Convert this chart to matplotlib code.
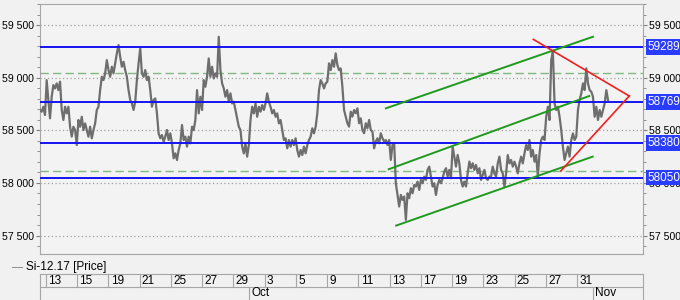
import numpy as np
import matplotlib
matplotlib.use("Agg")
import matplotlib.pyplot as plt
from matplotlib.ticker import MultipleLocator, FuncFormatter

plt.rcParams['font.family'] = ['Liberation Sans', 'DejaVu Sans']
plt.rcParams['font.size'] = 8

# price path (Si-12.17), evenly spaced by bar
price = [
    58693, 58677, 58724, 58645, 58977, 58788, 58614, 58819, 58930, 58898,
    58946, 58882, 58962, 58693, 58598, 58724, 58661, 58724, 58534, 58440,
    58534, 58503, 58360, 58598, 58534, 58629, 58503, 58566, 58503, 58440,
    58534, 58424, 58503, 58566, 58693, 58724, 58882, 59009, 58977, 59041,
    59167, 59072, 59009, 59104, 59041, 59136, 59231, 59310, 59199, 59104,
    59151, 59072, 59009, 58882, 58788, 58756, 58693, 58772, 58977, 59136,
    59278, 59041, 59009, 59072, 58977, 59009, 58882, 58724, 58788, 58803,
    58661, 58471, 58424, 58455, 58392, 58440, 58503, 58408, 58471, 58376,
    58234, 58281, 58218, 58313, 58376, 58550, 58408, 58440, 58345, 58440,
    58376,
    58534, 58503, 58598, 58882, 58661, 58819, 58693, 58977, 58914, 59009,
    59183, 59009, 59104, 58993, 59041, 59009, 59389, 59072, 58946, 58898,
    58819, 58882, 58772, 58851, 58756, 58772, 58693, 58614, 58534, 58503,
    58345, 58281, 58376, 58250, 58360, 58598, 58724, 58661, 58756, 58629,
    58724, 58677, 58740, 58693, 58756, 58851, 58772, 58724, 58661, 58693,
    58629, 58661, 58566, 58598, 58503, 58408, 58424, 58329, 58408, 58345,
    58408, 58360, 58424, 58313, 58250, 58313, 58265, 58345, 58281, 58360,
    58408, 58440, 58519, 58471, 58534, 58661, 58882, 58977, 58946, 58898,
    58946, 58962, 59136, 59072, 59167, 59104, 59231, 59120, 59072, 59088,
    58915, 58693, 58630, 58567, 58535, 58677, 58630, 58693, 58662, 58709,
    58567, 58614, 58503, 58472, 58567, 58519, 58598, 58503, 58488, 58329,
    58393, 58424, 58377, 58472, 58424, 58393, 58408, 58361, 58408, 58219,
    58361, 58377, 57997, 57886, 57776, 57886, 57839, 57871, 57649, 57902,
    57855, 57950, 57902, 57981, 57966, 58013, 57934, 58029, 57997, 58060,
    58029, 58124, 58155, 58060, 57966, 57997, 57886, 57981, 58029, 57997,
    58045, 58108, 58140, 58060, 58124, 58045, 58345, 58250, 58155, 58266,
    58187, 58029, 57966, 58013, 57966, 58092, 58203, 58140, 58187, 58124,
    58171, 58092, 58140, 58029, 58076, 58124, 58045, 58029, 58060,
    58060, 58155, 58091, 58060, 58186, 58250, 58123, 58091, 57965, 58091,
    58265, 58186, 58218, 58155, 58202, 58155, 58091, 58186, 58250, 58186,
    58281, 58360, 58313, 58408, 58250, 58313, 58202, 58265, 58060, 58281,
    58408, 58440, 58408, 58629, 58724, 58598, 59167, 59246, 58756, 58693,
    58724, 58629, 58503, 58345, 58218, 58281, 58345, 58250, 58408, 58471,
    58408, 58440, 58693, 58788, 58851, 58946, 58882, 59088, 58946, 58882,
    58867, 58819, 58629, 58724, 58598, 58693, 58629, 58693, 58756, 58882,
    58788,
]
first_bar = -0.19
last_bar = 17.99

# date axis: one label per grid column, months below
day_labels = ['13', '15', '19', '21', '25', '27', '29', '3', '5', '9',
              '11', '13', '17', '19', '23', '25', '27', '31']
month_labels = ['Oct', 'Nov']
month_starts = [6.5, 17.51]

# levels
blue_levels = [59289, 58769, 58380, 58050]
dashed_levels = [59042, 58110]

# trend lines (bar, price)
green_lines = [
    ([10.88, 17.51], [58709, 59389]),
    ([10.97, 17.39], [58130, 58826]),
    ([11.21, 17.50], [57595, 58250]),
]
red_lines = [
    ([15.60, 18.67], [59364, 58826]),
    ([16.48, 18.67], [58114, 58826]),
]

bg = '#f1f1f1'
edge = '#a6a6a6'

fig = plt.figure(figsize=(6.8, 3.0), dpi=100)
fig.patch.set_facecolor(bg)

W, H = 680.0, 300.0
ax = fig.add_axes([40 / W, 1 - 254 / H, (643 - 40) / W, (254 - 4) / H])
ax.set_facecolor('#f3f3f3')

x = np.linspace(first_bar, last_bar, len(price))
ax.plot(x, price, color='#6e6e6e', lw=1.6, zorder=3)

for lv in dashed_levels:
    ax.axhline(lv, color='#82b882', lw=1.0, ls=(0, (6, 3)), zorder=2)
for lv in blue_levels:
    ax.axhline(lv, color='#1414f0', lw=1.4, zorder=4)
    ax.text(1.008, lv, '%d.' % lv, transform=ax.get_yaxis_transform(),
            color='white', va='center', ha='left', fontsize=8.5, zorder=6,
            clip_on=False,
            bbox=dict(boxstyle='square,pad=0.15', fc='#2a3cff', ec='none'))

for xs, ys in green_lines:
    ax.plot(xs, ys, color='#1f9a1f', lw=1.4, zorder=5)
for xs, ys in red_lines:
    ax.plot(xs, ys, color='#f02020', lw=1.2, zorder=5)

ax.set_xlim(-0.19, 19.11)
ax.set_ylim(57325, 59700)

ticks = np.arange(len(day_labels))
ax.set_xticks(ticks)
ax.set_xticklabels([])
ax.tick_params(axis='x', length=0)
ax.yaxis.set_major_locator(MultipleLocator(500))
ax.yaxis.set_minor_locator(MultipleLocator(100))
ax.yaxis.set_major_formatter(FuncFormatter(lambda v, p: '{:,}'.format(int(v)).replace(',', ' ')))
ax.tick_params(axis='y', which='both', left=True, right=True,
               labelleft=True, labelright=True, colors='#808080',
               labelcolor='black', labelsize=7.6, direction='out')
ax.tick_params(axis='y', which='major', length=3, pad=1.5)
ax.tick_params(axis='y', which='minor', length=2)
ax.grid(True, which='major', color='#a0a0a0', ls=(0, (1, 2)), lw=0.9)
for s in ax.spines.values():
    s.set_color(edge)

# legend line
fig.text(12 / W, 1 - 267 / H, '\u2014', color='#707070', va='center', fontsize=8)
fig.text(26 / W, 1 - 267 / H, 'Si-12.17 [Price]', va='center', fontsize=8.5)

# date table under the chart
axd = fig.add_axes([40 / W, 0, (643 - 40) / W, (300 - 274) / H], sharex=ax)
axd.set_facecolor(bg)
axd.set_ylim(0, 2)
axd.axhline(1, color=edge, lw=0.8)
for t, lab in zip(ticks, day_labels):
    axd.plot([t, t], [1, 2], color=edge, lw=0.8)
    axd.text(t + 0.07, 1.5, lab, va='center', ha='left', fontsize=8.5)
for m, lab in zip(month_starts, month_labels):
    axd.plot([m, m], [0, 1], color=edge, lw=0.8)
    axd.text(m + 0.07, 0.5, lab, va='center', ha='left', fontsize=8.5)
axd.set_xticks([])
axd.set_yticks([])
axd.spines['bottom'].set_visible(False)
for k in ['top', 'left', 'right']:
    axd.spines[k].set_color(edge)

fig.savefig('out.png', dpi=100, facecolor=bg)
